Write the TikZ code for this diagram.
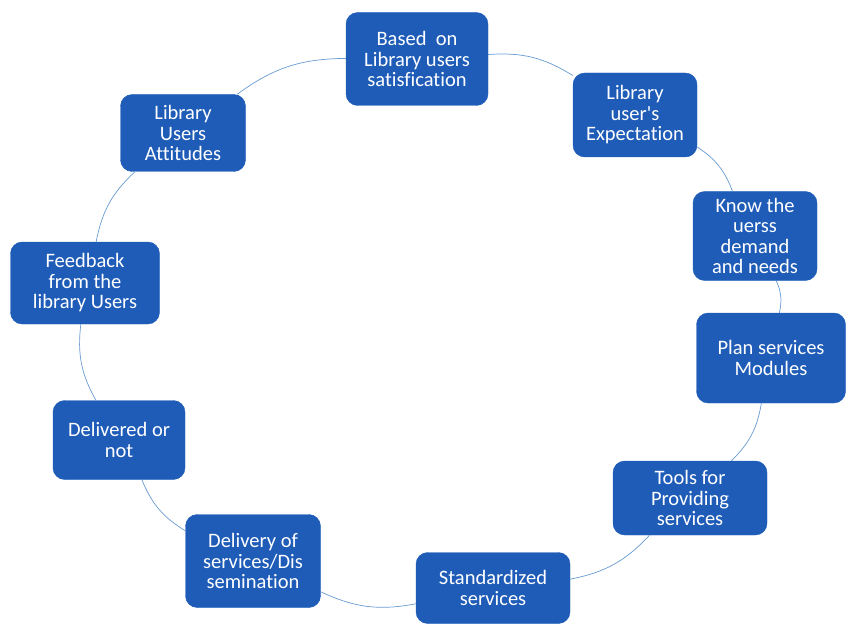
\documentclass[tikz,border=0pt]{standalone}
\usepackage{fontspec}
\setmainfont[Ligatures={NoCommon,TeXOff}]{Carlito}
\definecolor{boxblue}{RGB}{30,92,184}
\definecolor{linkblue}{RGB}{105,155,210}
\begin{document}
\begin{tikzpicture}[
		x=0.03cm, y=-0.03cm,
		font=\fontsize{17.5}{17.5}\selectfont,
		stage/.style={draw=boxblue, fill=boxblue, text=white, rounded corners=10pt,
			align=center, inner sep=2pt},
		link/.style={draw=linkblue, line width=0.6pt, bend left=18},
	]
		\useasboundingbox (0,0) rectangle (846,624);
		% Stufen im Kreis (Pixelkoordinaten)
		\node[stage, minimum width=142*0.03cm, minimum height=93*0.03cm] (based) at (417,59)
			{Based~ on\\Library users\\satisfication};
		\node[stage, minimum width=124*0.03cm, minimum height=84*0.03cm] (expect) at (635,115)
			{Library\\user's\\Expectation};
		\node[stage, minimum width=124*0.03cm, minimum height=89*0.03cm] (know) at (755,236)
			{Know the\\uerss\\demand\\and needs};
		\node[stage, minimum width=149*0.03cm, minimum height=90*0.03cm] (plan) at (771,358)
			{Plan services\\Modules};
		\node[stage, minimum width=154*0.03cm, minimum height=74*0.03cm] (tools) at (690,498)
			{Tools for\\Providing\\services};
		\node[stage, minimum width=154*0.03cm, minimum height=71*0.03cm] (std) at (493,588)
			{Standardized\\services};
		\node[stage, minimum width=135*0.03cm, minimum height=93*0.03cm] (delivery) at (253,561)
			{Delivery of\\services/Dis\\semination};
		\node[stage, minimum width=132*0.03cm, minimum height=79*0.03cm] (delivered) at (119,440)
			{Delivered or\\not};
		\node[stage, minimum width=149*0.03cm, minimum height=82*0.03cm] (feedback) at (85,283)
			{Feedback\\from the\\library Users};
		\node[stage, minimum width=125*0.03cm, minimum height=77*0.03cm] (attitude) at (183,133)
			{Library\\Users\\Attitudes};

		% Verbindungen im Kreis
		\draw[link] (based) to (expect);
		\draw[link] (expect) to (know);
		\draw[link] (know) to (plan);
		\draw[link] (plan) to (tools);
		\draw[link] (tools) to (std);
		\draw[link] (std) to (delivery);
		\draw[link] (delivery) to (delivered);
		\draw[link] (delivered) to (feedback);
		\draw[link] (feedback) to (attitude);
		\draw[link] (attitude) to (based);
	\end{tikzpicture}
\end{document}
